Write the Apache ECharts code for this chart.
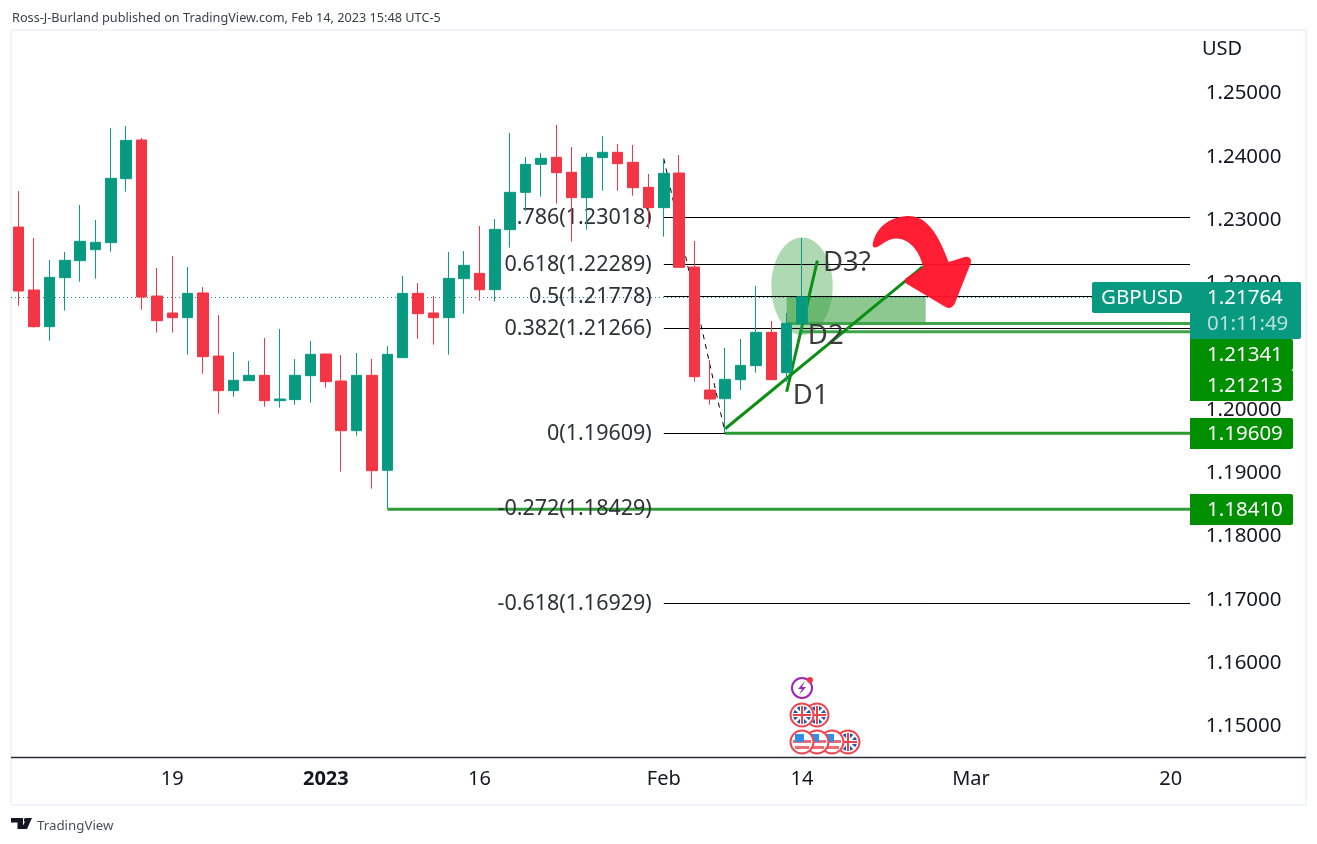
<!DOCTYPE html>
<html><head><meta charset="utf-8">
<style>html,body{margin:0;padding:0;background:#fff}#c{width:1317px;height:844px}</style>
<script src="https://cdn.jsdelivr.net/npm/echarts@6/dist/echarts.min.js"></script>
</head><body><div id="c"></div>
<script>
const dates = ['Dec 5','Dec 6','Dec 7','Dec 8','Dec 9','Dec 12','Dec 13','Dec 14','Dec 15','Dec 16','Dec 19','Dec 20','Dec 21','Dec 22','Dec 23','Dec 26','Dec 27','Dec 28','Dec 29','Dec 30','Jan 2','Jan 3','Jan 4','Jan 5','Jan 6','Jan 9','Jan 10','Jan 11','Jan 12','Jan 13','Jan 16','Jan 17','Jan 18','Jan 19','Jan 20','Jan 23','Jan 24','Jan 25','Jan 26','Jan 27','Jan 30','Jan 31','Feb 1','Feb 2','Feb 3','Feb 6','Feb 7','Feb 8','Feb 9','Feb 10','Feb 13','Feb 14','Feb 15','Feb 16','Feb 17','Feb 20','Feb 21','Feb 22','Feb 23','Feb 24','Feb 27','Feb 28','Mar 1','Mar 2','Mar 3','Mar 6','Mar 7','Mar 8','Mar 9','Mar 10','Mar 13','Mar 14','Mar 15','Mar 16','Mar 17','Mar 20','Mar 21'];
const opens = [1.22867,1.21872,1.21293,1.22067,1.22335,1.22509,1.2262,1.23631,1.24242,1.21777,1.21509,1.21435,1.21825,1.20829,1.20282,1.2044,1.20524,1.20124,1.2014,1.20519,1.20861,1.20434,1.1965,1.20524,1.19023,1.20803,1.21819,1.21509,1.21435,1.22051,1.22135,1.21877,1.22825,1.23415,1.23857,1.23968,1.23731,1.23331,1.23963,1.24047,1.23889,1.23494,1.23173,1.2372,1.22235,1.20292,1.20155,1.20455,1.20677,1.21203,1.20566,1.2134];
const closes = [1.21856,1.21293,1.22072,1.22341,1.22641,1.22625,1.23636,1.24236,1.21761,1.21388,1.21435,1.21819,1.20819,1.20282,1.20445,1.20524,1.20124,1.2015,1.20524,1.20856,1.20424,1.1965,1.20524,1.19018,1.20856,1.21819,1.21498,1.21435,1.22056,1.22262,1.21877,1.2283,1.23415,1.23857,1.23952,1.23726,1.23331,1.23968,1.24047,1.23868,1.23489,1.23173,1.23715,1.2223,1.20503,1.2015,1.20461,1.20682,1.21203,1.20455,1.21345,1.21764];
const lows = [1.21624,1.21277,1.21072,1.21546,1.22004,1.22051,1.22478,1.23425,1.21561,1.21198,1.21198,1.2085,1.2055,1.19918,1.20187,1.2044,1.20029,1.20013,1.2006,1.20092,1.20329,1.19002,1.19571,1.18733,1.18423,1.20803,1.21103,1.21008,1.2085,1.21498,1.21703,1.21688,1.22541,1.23125,1.23346,1.23236,1.22636,1.22825,1.23441,1.23441,1.23362,1.22841,1.22715,1.2223,1.20424,1.2006,1.19613,1.20292,1.20566,1.20455,1.20424,1.21187];
const highs = [1.23436,1.22694,1.22346,1.22472,1.23215,1.22978,1.24431,1.24463,1.24273,1.2222,1.22409,1.22235,1.21919,1.21477,1.20893,1.2075,1.21114,1.21256,1.20782,1.21066,1.20861,1.20845,1.20877,1.20782,1.20987,1.22093,1.21983,1.21777,1.22472,1.22488,1.22883,1.22994,1.24352,1.23973,1.24036,1.24479,1.24131,1.24036,1.24305,1.24178,1.24163,1.23705,1.23942,1.24005,1.22646,1.20766,1.20956,1.21098,1.21935,1.21382,1.21509,1.22694];
const dateLabels = {'Dec 19':'19','Jan 2':'{b|2023}','Jan 16':'16','Feb 1':'Feb','Feb 14':'14','Mar 1':'Mar','Mar 20':'20'};
const priceTicks = [1.15,1.16,1.17,1.18,1.19,1.2,1.21,1.22,1.23,1.24,1.25];
const fibRatios = ['0.786','0.618','0.5','0.382','0','-0.272','-0.618'];
const fibPrices = [1.23018,1.22289,1.21778,1.21266,1.19609,1.18429,1.16929];
const greenPrices = [1.21341,1.21213,1.19609,1.1841];
const greenFromBar = [50,51,46,24];
const lastPrice = 1.21764;
const symbol = 'GBPUSD';
const countdown = '01:11:49';
const notes = [['D1',50.4,1.20213],['D2',51.38,1.21161],['D3?',52.36,1.22314]];

const FONT = '"Noto Sans", sans-serif';
const UP = '#089981', DOWN = '#f23645', TREND = '#0b8f14';
const LEVEL_COLORS = ['#3ea648','#3ea648','#2a9a32','#2f9c38'];
const xFib0 = 42, xEnd = 76.26, xDotEnd = 69.9;
const ARROW = 'M873,245 C875,232 885,219 905,217 C925,215 937,232 948,262 L964,257 Q971,256 970,263 L954,303 Q950,309 945,306 L906,283 Q903,279 907,277 L923,267 C919,250 908,238 895,239 C887,240 884,244 878,247 Q873,249 873,245 Z';

const chart = echarts.init(document.getElementById('c'), null, {renderer:'canvas'});
const candles = opens.map((o,i)=>[o,closes[i],lows[i],highs[i]]);
const crisp = v => Math.round(v)+0.5;
function seg(api,x1,p1,x2,p2,style){
  const a=api.coord([x1,p1]), b=api.coord([x2,p2]);
  return {type:'line',shape:{x1:a[0],y1:a[1],x2:b[0],y2:b[1]},style};
}
function custom(name,data,renderItem,z){
  return {type:'custom',name,xAxisIndex:1,yAxisIndex:0,coordinateSystem:'cartesian2d',clip:false,silent:true,z,data,renderItem,encode:{x:0,y:1}};
}
const graphics = [];
graphics.push({type:'rect',z:1,shape:{x:11,y:30,width:1295,height:775},style:{fill:'none',stroke:'#f0f3fa',lineWidth:2}});
graphics.push({type:'line',z:1,shape:{x1:11,y1:757.5,x2:1306,y2:757.5},style:{stroke:'#2a2e39',lineWidth:1.5}});
graphics.push({type:'text',z:50,x:12,y:18,style:{text:'Ross-J-Burland published on TradingView.com, Feb 14, 2023 15:48 UTC-5',font:'12.7px '+FONT,fill:'#3a3e48',verticalAlign:'middle'}});
graphics.push({type:'text',z:50,x:1202,y:49,style:{text:'USD',font:'20px '+FONT,fill:'#131722',verticalAlign:'middle'}});
const pillText=(t,x,y,c)=>({type:'text',z:61,x,y,style:{text:t,font:'20.5px '+FONT,fill:c||'#fff',verticalAlign:'middle'}});
graphics.push({type:'rect',z:60,shape:{x:1092,y:282,width:110,height:31,r:[2,0,0,2]},style:{fill:UP}});
graphics.push({type:'rect',z:60,shape:{x:1190,y:282,width:111,height:57,r:[0,2,2,0]},style:{fill:UP}});
graphics.push(pillText(symbol,1101,298));
graphics.push(pillText(lastPrice.toFixed(5),1207,298));
graphics.push(pillText(countdown,1207,324,'rgba(255,255,255,0.7)'));
const pillCentres=[354.5,385.5,433.5,509.5];
greenPrices.forEach((p,i)=>{
  graphics.push({type:'rect',z:59,shape:{x:1190,y:pillCentres[i]-15.5,width:103,height:31,r:[0,2,2,0]},style:{fill:'#008f00'}});
  graphics.push(pillText(p.toFixed(5),1207,pillCentres[i]+0.5));
});
function us(cx,cy){return [
  {type:'circle',z:30,shape:{cx,cy,r:11.5},style:{fill:'#fff',stroke:'#f4454f',lineWidth:2}},
  {type:'rect',z:31,shape:{x:cx-9,y:cy-2,width:18,height:3},style:{fill:'#f26a72'}},
  {type:'rect',z:31,shape:{x:cx-7,y:cy+4,width:14,height:3},style:{fill:'#f26a72'}},
  {type:'rect',z:32,shape:{x:cx-7,y:cy-8,width:9,height:8},style:{fill:'#2f8ee6'}}
];}
function uk(cx,cy){return [
  {type:'circle',z:30,shape:{cx,cy,r:11.5},style:{fill:'#fff',stroke:'#f4454f',lineWidth:2}},
  {type:'circle',z:31,shape:{cx,cy,r:9},style:{fill:'#2456a8'}},
  {type:'line',z:32,shape:{x1:cx-6.5,y1:cy-6.5,x2:cx+6.5,y2:cy+6.5},style:{stroke:'#fff',lineWidth:2.5}},
  {type:'line',z:32,shape:{x1:cx+6.5,y1:cy-6.5,x2:cx-6.5,y2:cy+6.5},style:{stroke:'#fff',lineWidth:2.5}},
  {type:'line',z:33,shape:{x1:cx-9,y1:cy,x2:cx+9,y2:cy},style:{stroke:'#fff',lineWidth:4}},
  {type:'line',z:33,shape:{x1:cx,y1:cy-9,x2:cx,y2:cy+9},style:{stroke:'#fff',lineWidth:4}},
  {type:'line',z:34,shape:{x1:cx-9,y1:cy,x2:cx+9,y2:cy},style:{stroke:'#e8434c',lineWidth:2}},
  {type:'line',z:34,shape:{x1:cx,y1:cy-9,x2:cx,y2:cy+9},style:{stroke:'#e8434c',lineWidth:2}}
];}
[[848,742,uk],[832,742,us],[817,742,us],[802,742,us],[817,715,uk],[802,715,uk]].forEach((d,i)=>{
  d[2](d[0],d[1]).forEach(g=>{g.z+=i*6; graphics.push(g);});
});
graphics.push({type:'circle',z:30,shape:{cx:802,cy:688,r:10},style:{fill:'#fff',stroke:'#9c27b0',lineWidth:2}});
graphics.push({type:'polygon',z:31,shape:{points:[[805,681],[798,689],[802,689],[799,695],[806,687],[802,687]]},style:{fill:'#9c27b0'}});
graphics.push({type:'circle',z:32,shape:{cx:810,cy:680,r:3},style:{fill:'#f23645'}});
graphics.push({type:'polygon',z:30,shape:{points:[[11,818],[23,818],[23,829],[17.5,829],[17.5,822.5],[11,822.5]]},style:{fill:'#131722'}});
graphics.push({type:'polygon',z:30,shape:{points:[[32,818],[27,829],[21.5,829],[26.5,818]]},style:{fill:'#131722'}});
graphics.push({type:'circle',z:31,shape:{cx:25.8,cy:820,r:2},style:{fill:'#131722'}});
graphics.push({type:'text',z:30,x:37,y:826,style:{text:'TradingView',font:'13.3px '+FONT,fill:'#4a4e59',verticalAlign:'middle'}});

chart.setOption({
  animation:false,
  backgroundColor:'#fff',
  grid:{left:11,width:1182.7,top:31,height:726,containLabel:false},
  xAxis:[
    {type:'category',data:dates,boundaryGap:true,axisLine:{show:false},axisTick:{show:false},splitLine:{show:false},
     axisLabel:{interval:0,margin:12,hideOverlap:false,fontFamily:FONT,fontSize:20,color:'#131722',
       formatter:v=>dateLabels[v]||'',rich:{b:{fontWeight:'bold',fontSize:20,fontFamily:FONT,color:'#131722'}}}},
    {type:'value',show:false,min:-0.5,max:76.5,splitLine:{show:false}}
  ],
  yAxis:{type:'value',position:'right',min:1.144945,max:1.259637,axisLine:{show:false},axisTick:{show:false},splitLine:{show:false},
    axisLabel:{customValues:priceTicks,margin:12,fontFamily:FONT,fontSize:20.5,color:'#131722',showMinLabel:true,showMaxLabel:true,
      formatter:v=>'{p|'+v.toFixed(5)+'}',rich:{p:{fontFamily:FONT,fontSize:20.5,color:'#131722',padding:[3,0,0,0]}}}},
  series:[
    custom('rect',[[50,1.2177,59.05,1.2132]],(p,api)=>{
      const a=api.coord([api.value(0),api.value(1)]),b=api.coord([api.value(2),api.value(3)]);
      return {type:'rect',shape:{x:a[0],y:a[1],width:b[0]-a[0],height:b[1]-a[1]},style:{fill:'rgba(56,160,62,0.58)'}};
    },2),
    custom('ellipse',[[51,1.2193,2,0.0077]],(p,api)=>{
      const c=api.coord([api.value(0),api.value(1)]),e=api.coord([api.value(0)+api.value(2),api.value(1)+api.value(3)]);
      return {type:'ellipse',shape:{cx:c[0],cy:c[1],rx:e[0]-c[0],ry:c[1]-e[1]},style:{fill:'rgba(56,160,62,0.4)'}};
    },3),
    custom('last price',[[-0.5,lastPrice,xDotEnd]],(p,api)=>{
      const a=api.coord([api.value(0),api.value(1)]),b=api.coord([api.value(2),api.value(1)]);
      const y=crisp(a[1]);
      return {type:'line',shape:{x1:a[0],y1:y,x2:b[0],y2:y},style:{stroke:UP,lineWidth:1,lineDash:[1,3]}};
    },3),
    custom('fib lines',fibPrices.map(p=>[xFib0,p]),(p,api)=>{
      const c=api.coord([xFib0,api.value(1)]),e=api.coord([xEnd,api.value(1)]),y=crisp(c[1]);
      return {type:'line',shape:{x1:c[0],y1:y,x2:e[0],y2:y},style:{stroke:'#000',lineWidth:1}};
    },4),
    custom('fib trend',[[42,1.23947,46,1.19609]],(p,api)=>seg(api,api.value(0),api.value(1),api.value(2),api.value(3),{stroke:'#000',lineWidth:1,lineDash:[5,5]}),5),
    custom('levels',greenPrices.map((p,i)=>[greenFromBar[i],p,i]),(p,api)=>{
      return seg(api,api.value(0),api.value(1),xEnd,api.value(1),{stroke:LEVEL_COLORS[api.value(2)],lineWidth:3});
    },6),
    custom('trend',[[46,1.1968,58.87,1.2224],[50,1.20265,52,1.22335]],(p,api)=>seg(api,api.value(0),api.value(1),api.value(2),api.value(3),{stroke:TREND,lineWidth:3}),7),
    custom('fib labels',fibPrices.map((p,i)=>[xFib0,p,i]),(p,api)=>{
      const c=api.coord([xFib0,api.value(1)]),y=crisp(c[1]);
      return {type:'text',x:c[0]-12,y:y,style:{text:fibRatios[api.value(2)]+'('+api.value(1).toFixed(5)+')',font:'21.5px '+FONT,fill:'#2f3138',align:'right',verticalAlign:'middle'}};
    },8),
    custom('notes',notes.map(n=>[n[1],n[2]]),(p,api)=>{
      const c=api.coord([api.value(0),api.value(1)]);
      return {type:'text',x:c[0],y:c[1]+1,style:{text:notes[p.dataIndex][0],font:'27.5px '+FONT,fill:'#3c3c3c',verticalAlign:'middle'}};
    },8),
    custom('arrow',[[55.6,1.23041,62,1.21588]],(p,api)=>{
      const a=api.coord([api.value(0),api.value(1)]),b=api.coord([api.value(2),api.value(3)]);
      return {type:'path',shape:{pathData:ARROW,x:a[0],y:a[1],width:b[0]-a[0],height:b[1]-a[1],layout:'cover'},style:{fill:'#ff1229',opacity:0.95}};
    },9),
    {type:'candlestick',name:'GBPUSD',xAxisIndex:0,yAxisIndex:0,z:10,data:candles,barWidth:11,silent:true,
     itemStyle:{color:UP,color0:DOWN,borderColor:'#0c9d85',borderColor0:DOWN,borderWidth:1}}
  ],
  graphic:{elements:graphics}
});
</script></body></html>
